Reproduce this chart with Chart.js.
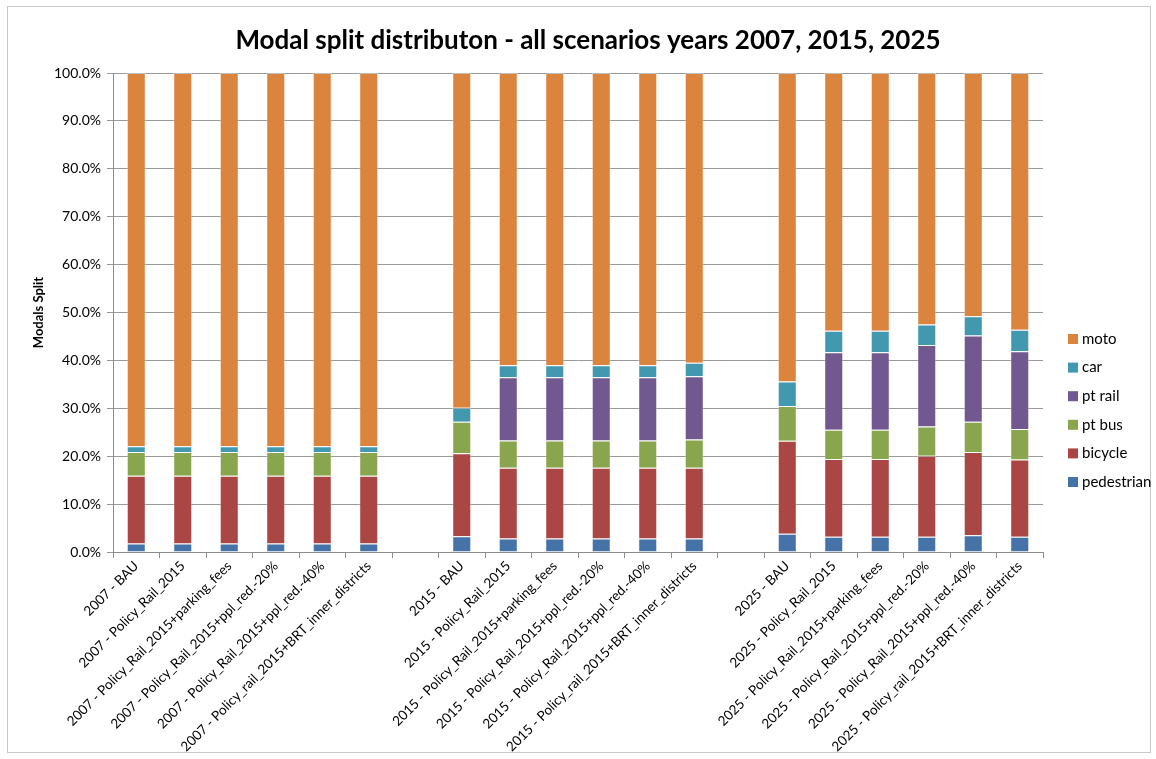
<!DOCTYPE html>
<html>
<head>
<meta charset="utf-8">
<script src="https://cdn.jsdelivr.net/npm/chart.js@4.4.1/dist/chart.umd.min.js"></script>
<style>
  html, body { margin: 0; padding: 0; background: #fff; }
  canvas { display: block; }
</style>
</head>
<body>
<canvas id="c" width="1156" height="759"></canvas>
<script>
const categories = [
  "2007 - BAU", "2007 - Policy_Rail_2015", "2007 - Policy_Rail_2015+parking_fees",
  "2007 - Policy_Rail_2015+ppl_red.-20%", "2007 - Policy_Rail_2015+ppl_red.-40%",
  "2007 - Policy_rail_2015+BRT_inner_districts",
  "",
  "2015 - BAU", "2015 - Policy_Rail_2015", "2015 - Policy_Rail_2015+parking_fees",
  "2015 - Policy_Rail_2015+ppl_red.-20%", "2015 - Policy_Rail_2015+ppl_red.-40%",
  "2015 - Policy_rail_2015+BRT_inner_districts",
  "",
  "2025 - BAU", "2025 - Policy_Rail_2015", "2025 - Policy_Rail_2015+parking_fees",
  "2025 - Policy_Rail_2015+ppl_red.-20%", "2025 - Policy_Rail_2015+ppl_red.-40%",
  "2025 - Policy_rail_2015+BRT_inner_districts"
];
const pedestrian = [1.8,1.8,1.8,1.8,1.8,1.8, null, 3.3,2.8,2.8,2.8,2.8,2.8, null, 3.8,3.2,3.2,3.2,3.5,3.2];
const bicycle    = [14.1,14.1,14.1,14.1,14.1,14.1, null, 17.3,14.8,14.8,14.8,14.8,14.8, null, 19.4,16.2,16.2,16.9,17.4,16.1];
const ptBus      = [5.0,5.0,5.0,5.0,5.0,5.0, null, 6.6,5.7,5.7,5.7,5.7,5.9, null, 7.3,6.1,6.1,6.1,6.3,6.4];
const ptRail     = [0,0,0,0,0,0, null, 0,13.2,13.2,13.2,13.2,13.2, null, 0,16.2,16.2,17.0,18.0,16.2];
const car        = [1.2,1.2,1.2,1.2,1.2,1.2, null, 2.9,2.5,2.5,2.5,2.5,2.8, null, 5.1,4.5,4.5,4.3,4.0,4.5];
const moto       = [77.9,77.9,77.9,77.9,77.9,77.9, null, 69.9,61.0,61.0,61.0,61.0,60.5, null, 64.4,53.8,53.8,52.5,50.8,53.6];
const yTicks = [0,10,20,30,40,50,60,70,80,90,100];
const chartTitle = "Modal split distributon - all scenarios years 2007, 2015, 2025";

const FONT = "Lato, 'Open Sans', sans-serif";

const seriesDefs = [
  { label: "pedestrian", data: pedestrian, color: "#4572A7" },
  { label: "bicycle",    data: bicycle,    color: "#AA4643" },
  { label: "pt bus",     data: ptBus,      color: "#89A54E" },
  { label: "pt rail",    data: ptRail,     color: "#71588F" },
  { label: "car",        data: car,        color: "#4198AF" },
  { label: "moto",       data: moto,       color: "#DB843D" }
];

const frame = {
  id: "frame",
  beforeDraw(chart) {
    const ctx = chart.ctx;
    ctx.save();
    ctx.fillStyle = "#fff";
    ctx.fillRect(0, 0, chart.width, chart.height);
    ctx.strokeStyle = "#c8c8c8";
    ctx.lineWidth = 1;
    ctx.strokeRect(7.5, 6.5, 1143, 746);
    ctx.restore();
  }
};

const titleAndLegend = {
  id: "titleAndLegend",
  afterDraw(chart) {
    const ctx = chart.ctx;
    ctx.save();
    ctx.font = "bold 26px " + FONT;
    ctx.fillStyle = "#000";
    ctx.textAlign = "center";
    ctx.textBaseline = "middle";
    ctx.fillText(chartTitle, 588, 41);

    const ds = chart.data.datasets.slice().reverse();
    ctx.font = "15px " + FONT;
    ctx.textAlign = "left";
    ds.forEach((d, i) => {
      const y = 339 + i * 28.6;
      ctx.fillStyle = d.backgroundColor;
      ctx.fillRect(1068, y - 5, 10, 10);
      ctx.fillStyle = "#000";
      ctx.fillText(d.label, 1082, y);
    });
    ctx.restore();
  }
};

new Chart(document.getElementById("c"), {
  type: "bar",
  data: {
    labels: categories,
    datasets: seriesDefs.map(s => ({
      label: s.label,
      data: s.data,
      backgroundColor: s.color,
      borderColor: "rgba(255,255,255,0.35)",
      borderWidth: 1,
      categoryPercentage: 1.0,
      barPercentage: 0.41
    }))
  },
  options: {
    responsive: false,
    animation: false,
    devicePixelRatio: 1,
    layout: { padding: { left: 10, right: 113, top: 73, bottom: 0 } },
    plugins: {
      legend: { display: false },
      tooltip: { enabled: false },
      title: { display: false }
    },
    scales: {
      x: {
        stacked: true,
        grid: { display: true, drawOnChartArea: false, drawTicks: true, tickLength: 6, color: "#8c8c8c", offset: true },
        border: { display: true, color: "#8c8c8c" },
        ticks: {
          autoSkip: false,
          maxRotation: 45,
          minRotation: 45,
          padding: 0,
          color: "#000",
          font: { family: FONT, size: 13.5 }
        },
        afterFit(s) { s.height = 759 - 552; }
      },
      y: {
        stacked: true,
        min: 0,
        max: 100,
        afterBuildTicks(s) { s.ticks = yTicks.map(v => ({ value: v })); },
        grid: { color: "#9a9a9a", tickLength: 6, drawTicks: true },
        border: { display: true, color: "#8c8c8c" },
        ticks: {
          padding: 6,
          color: "#000",
          font: { family: FONT, size: 14 },
          callback: v => v.toFixed(1) + "%"
        },
        title: {
          display: true,
          text: "Modals Split",
          color: "#000",
          font: { family: FONT, size: 13, weight: "bold" },
          padding: { top: 21, bottom: 0 }
        },
        afterFit(s) { s.width = 103; }
      }
    }
  },
  plugins: [frame, titleAndLegend]
});
</script>
